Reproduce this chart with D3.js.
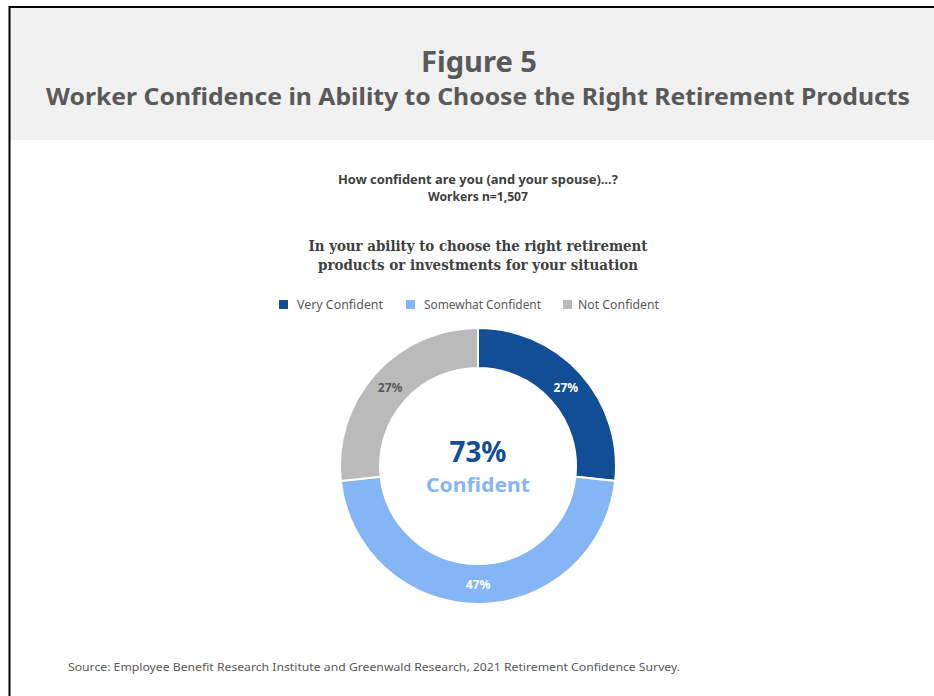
<!DOCTYPE html>
<html>
<head>
<meta charset="utf-8">
<script src="https://cdn.jsdelivr.net/npm/d3@7"></script>
<style>
  html, body { margin: 0; padding: 0; background: #ffffff; }
  svg { display: block; }
</style>
</head>
<body>
<svg id="chart" width="934" height="696"></svg>
<script>
// Survey response shares (percent of workers)
const categories = ["Very Confident", "Somewhat Confident", "Not Confident"];
const values = [27, 47, 27];
const colors = ["#124e96", "#84b5f5", "#bababa"];
const labelColors = ["#ffffff", "#ffffff", "#595959"];
const centerValue = "73%";
const centerLabel = "Confident";

const svg = d3.select("#chart");
const sans = "'Noto Sans', 'Open Sans', Arial, sans-serif";
const serif = "'DejaVu Serif', 'Liberation Serif', serif";
const textGray = "#595959";

// Frame and header band
svg.append("rect").attr("x", 10).attr("y", 8).attr("width", 924).attr("height", 132).attr("fill", "#f1f1f1");
svg.append("line").attr("x1", 9).attr("x2", 934).attr("y1", 7).attr("y2", 7).attr("stroke", "#000").attr("stroke-width", 2);
svg.append("line").attr("x1", 9.5).attr("x2", 9.5).attr("y1", 6).attr("y2", 696).attr("stroke", "#000").attr("stroke-width", 2);

function txt(x, y, s, opts) {
  const t = svg.append("text")
    .attr("x", x).attr("y", y)
    .attr("text-anchor", opts.anchor || "middle")
    .attr("font-family", opts.family || sans)
    .attr("font-size", opts.size)
    .attr("font-weight", opts.weight || "normal")
    .attr("fill", opts.fill || textGray)
    .text(s);
  if (opts.len) t.attr("textLength", opts.len).attr("lengthAdjust", "spacingAndGlyphs");
  return t;
}

// Titles
txt(479, 72, "Figure 5", { size: 29, weight: "bold", len: 116 });
txt(478, 105, "Worker Confidence in Ability to Choose the Right Retirement Products", { size: 24, weight: "bold", len: 864 });

// Question text
txt(478, 184, "How confident are you (and your spouse)…?", { size: 12, weight: "bold", fill: "#404040", len: 280 });
txt(478, 201, "Workers n=1,507", { size: 12, weight: "bold", fill: "#404040", len: 100 });
txt(478, 251, "In your ability to choose the right retirement", { size: 14, weight: "bold", family: serif, fill: "#404040", len: 339 });
txt(478, 270, "products or investments for your situation", { size: 14, weight: "bold", family: serif, fill: "#404040", len: 320 });

// Legend
const legendX = [279, 406, 563];
const legendTextX = [297, 424, 578];
const legendLen = [86, 117, 81];
const legend = svg.append("g");
categories.forEach((c, i) => {
  legend.append("rect").attr("x", legendX[i]).attr("y", 300).attr("width", 9).attr("height", 9).attr("fill", colors[i]);
  txt(legendTextX[i], 309, c, { size: 12, anchor: "start", len: legendLen[i] });
});

// Donut
const cx = 478, cy = 466;
const outerR = 138, innerR = 98;
const pie = d3.pie().sort(null).value(d => d)(values);
const arc = d3.arc().innerRadius(innerR).outerRadius(outerR);
const labelArc = d3.arc().innerRadius(118).outerRadius(118);
const g = svg.append("g").attr("transform", `translate(${cx},${cy})`);
g.selectAll("path.slice").data(pie).enter().append("path")
  .attr("class", "slice")
  .attr("d", arc)
  .attr("fill", (d, i) => colors[i])
  .attr("stroke", "#ffffff")
  .attr("stroke-width", 2);

g.selectAll("text.pct").data(pie).enter().append("text")
  .attr("class", "pct")
  .attr("transform", d => `translate(${labelArc.centroid(d)})`)
  .attr("dy", "0.4em")
  .attr("text-anchor", "middle")
  .attr("font-family", sans)
  .attr("font-size", 12)
  .attr("font-weight", "bold")
  .attr("fill", (d, i) => labelColors[i])
  .text(d => d.data + "%");

// Center summary
txt(cx, 462, centerValue, { size: 28, weight: "bold", fill: "#124e96", len: 57 });
txt(cx, 492, centerLabel, { size: 20, weight: "bold", fill: "#84b5f5", len: 104 });

// Source note
txt(68, 671, "Source: Employee Benefit Research Institute and Greenwald Research, 2021 Retirement Confidence Survey.", { size: 11, anchor: "start", len: 612 });
</script>
</body>
</html>
